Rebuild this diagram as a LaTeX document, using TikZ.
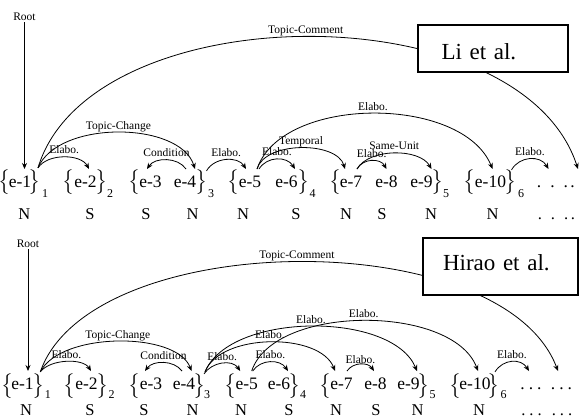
\documentclass[tikz,border=0pt]{standalone}
\usepackage{exscale}
\usepackage{fontspec}
\setmainfont{Liberation Serif}
\usetikzlibrary{arrows.meta}
\tikzset{
  eu/.style={font=\fontsize{17.5}{21}\selectfont, inner xsep=0pt, inner ysep=6pt, text height=11.8pt, text depth=0pt, anchor=base},
  brc/.style={font=\fontsize{20.8}{25}\selectfont, inner sep=0pt},
  subn/.style={font=\fontsize{12}{14}\selectfont, inner sep=0pt, anchor=base},
  nuc/.style={font=\fontsize{16.5}{20}\selectfont, inner sep=0pt, anchor=base},
  lbl/.style={font=\fontsize{11.5}{13}\selectfont, inner sep=0.5pt, text height=8pt, text depth=2.5pt},
  conn/.style={line width=0.8pt, -{Stealth[length=6pt,width=5pt]}},
  refbox/.style={draw, line width=1.8pt, fill=white, font=\fontsize{23}{28}\selectfont, align=left, inner ysep=0pt}
}
\newcommand{\lbr}{$\mathchar"4308$}
\newcommand{\rbr}{$\mathchar"5309$}
\newcommand{\wdots}{.\hspace{9pt}.\hspace{9pt}.}
\newcommand{\ndots}{.\hspace{4pt}.\hspace{4pt}.}
\begin{document}
\begin{tikzpicture}[x=1pt,y=-1pt]
\fill[white] (0,0) rectangle (584,416);
\useasboundingbox (0,0) rectangle (584,416);

% ================= TOP (Li et al.) =================
\node[font=\fontsize{11.5}{13}\selectfont, inner sep=1pt] (troot) at (24.5,17) {Root};
\node[brc] (tob1) at (5,182.5) {\lbr};
\node[eu] (te1) at (20,187) {e-1};
\node[brc] (tcb1) at (35,182.5) {\rbr};
\node[subn] (ts1) at (45,197) {1};
\node[brc] (tob2) at (69,182.5) {\lbr};
\node[eu] (te2) at (85.5,187) {e-2};
\node[brc] (tcb2) at (101.5,182.5) {\rbr};
\node[subn] (ts2) at (110,197) {2};
\node[brc] (tob3) at (134.5,182.5) {\lbr};
\node[eu] (te3) at (150.5,187) {e-3};
\node[eu] (te4) at (185,187) {e-4};
\node[brc] (tcb3) at (201.5,182.5) {\rbr};
\node[subn] (ts3) at (211,197) {3};
\node[brc] (tob4) at (234,182.5) {\lbr};
\node[eu] (te5) at (250,187) {e-5};
\node[eu] (te6) at (286.5,187) {e-6};
\node[brc] (tcb4) at (303.5,182.5) {\rbr};
\node[subn] (ts4) at (312.5,197) {4};
\node[brc] (tob5) at (336,182.5) {\lbr};
\node[eu] (te7) at (351,187) {e-7};
\node[eu] (te8) at (386.5,187) {e-8};
\node[eu] (te9) at (421.5,187) {e-9};
\node[brc] (tcb5) at (437.5,182.5) {\rbr};
\node[subn] (ts5) at (446,197) {5};
\node[brc] (tob6) at (469.5,182.5) {\lbr};
\node[eu] (te10) at (490.5,187) {e-10};
\node[brc] (tcb6) at (510.5,182.5) {\rbr};
\node[subn] (ts6) at (521,197) {6};
\node[eu] (td1) at (552.5,187) {\wdots};
\node[eu] (td2) at (586,187) {\wdots};

\node[nuc] (tn1) at (24.3,219.6) {N};
\node[nuc] (tn2) at (90,219.6) {S};
\node[nuc] (tn3) at (146,219.6) {S};
\node[nuc] (tn4) at (192.5,219.6) {N};
\node[nuc] (tn5) at (243,219.6) {N};
\node[nuc] (tn6) at (296,219.6) {S};
\node[nuc] (tn7) at (346,219.6) {N};
\node[nuc] (tn8) at (382,219.6) {S};
\node[nuc] (tn9) at (431,219.6) {N};
\node[nuc] (tn10) at (492.5,219.6) {N};
\node[nuc] (tn11) at (553,219.6) {\wdots};
\node[nuc] (tn12) at (586,219.6) {\wdots};

\draw[conn] (troot.south) -- (troot.south |- te1.north);
\draw[conn] ([xshift=3pt,yshift=2pt]tcb1.north) .. controls +(52,-173) and +(-58,-178) .. ([xshift=-8pt]td2.north)
  node[lbl,pos=.5,above] {Topic-Comment};
\draw[conn] ([xshift=3pt,yshift=2pt]tcb1.north) .. controls +(20,-48) and +(-15,-48) .. ([xshift=10pt]te4.north)
  node[lbl,pos=.5,above] {Topic-Change};
\draw[conn] ([xshift=3pt,yshift=2pt]tcb1.north) .. controls +(10,-15) and +(-8,-15) .. ([xshift=3.5pt]te2.north)
  node[lbl,pos=.5,above] {Elabo.};
\draw[conn] ([xshift=1pt]te4.north) .. controls +(-8,-12) and +(8,-12) .. ([xshift=-3.5pt]te3.north)
  node[lbl,pos=.5,above] {Condition};
\draw[conn] ([xshift=5pt,yshift=-1pt]tcb3.north) .. controls +(8,-14) and +(-8,-13) .. ([xshift=-4pt]te5.north)
  node[lbl,pos=.5,above] {Elabo.};
\draw[conn] ([xshift=9pt]te5.north) .. controls +(8,-13) and +(-8,-13) .. ([xshift=8.5pt]te6.north)
  node[lbl,pos=.5,above] {Elabo.};
\draw[conn] ([xshift=7pt]te5.north) .. controls +(8,-28) and +(-8,-28) .. ([xshift=-6pt]te7.north)
  node[lbl,pos=.5,above] {Temporal};
\draw[conn] ([xshift=7pt]te5.north) .. controls +(25,-74) and +(-30,-74) .. ([xshift=2pt]te10.north)
  node[lbl,pos=.5,above] {Elabo.};
\draw[conn] ([xshift=6pt]te7.north) .. controls +(12,-21) and +(-12,-21) .. ([xshift=10pt]te9.north)
  node[lbl,pos=.5,above] {Same-Unit};
\draw[conn] ([xshift=6pt]te7.north) .. controls +(6,-11) and +(-6,-11) .. (te8.north)
  node[lbl,pos=.5,above] {Elabo.};
\draw[conn] ([xshift=1pt]tcb6.north) .. controls +(8,-14) and +(-8,-14) .. ([xshift=-4pt]td1.north)
  node[lbl,pos=.5,above] {Elabo.};

\node[refbox, minimum width=150pt, minimum height=47pt, text width=103pt, inner xsep=23.5pt, text height=23.4pt, text depth=1.8pt] (li) at (493,48.5) {Li et al.};

% ================= BOTTOM (Hirao et al.) =================
\node[font=\fontsize{11.5}{13}\selectfont, inner sep=1pt] (broot) at (28,244) {Root};
\node[brc] (bob1) at (8,386.5) {\lbr};
\node[eu] (be1) at (22.5,389) {e-1};
\node[brc] (bcb1) at (38.3,386.5) {\rbr};
\node[subn] (bs1) at (48,398) {1};
\node[brc] (bob2) at (70,386.5) {\lbr};
\node[eu] (be2) at (86.5,389) {e-2};
\node[brc] (bcb2) at (102.7,386.5) {\rbr};
\node[subn] (bs2) at (111.5,398) {2};
\node[brc] (bob3) at (134.5,386.5) {\lbr};
\node[eu] (be3) at (151,389) {e-3};
\node[eu] (be4) at (184,389) {e-4};
\node[brc] (bcb3) at (200,386.5) {\rbr};
\node[subn] (bs3) at (207,398) {3};
\node[brc] (bob4) at (231,386.5) {\lbr};
\node[eu] (be5) at (246.7,389) {e-5};
\node[eu] (be6) at (279,389) {e-6};
\node[brc] (bcb4) at (295,386.5) {\rbr};
\node[subn] (bs4) at (303,398) {4};
\node[brc] (bob5) at (326,386.5) {\lbr};
\node[eu] (be7) at (341.5,389) {e-7};
\node[eu] (be8) at (375.5,389) {e-8};
\node[eu] (be9) at (408.5,389) {e-9};
\node[brc] (bcb5) at (424,386.5) {\rbr};
\node[subn] (bs5) at (432.5,398) {5};
\node[brc] (bob6) at (455.5,386.5) {\lbr};
\node[eu] (be10) at (475,389) {e-10};
\node[brc] (bcb6) at (494,386.5) {\rbr};
\node[subn] (bs6) at (503.5,398) {6};
\node[eu] (bd1) at (531,389) {\ndots};
\node[eu] (bd2) at (561.5,389) {\ndots};

\node[nuc] (bn1) at (26,415.5) {N};
\node[nuc] (bn2) at (90,415.5) {S};
\node[nuc] (bn3) at (144,415.5) {S};
\node[nuc] (bn4) at (192.5,415.5) {N};
\node[nuc] (bn5) at (241,415.5) {N};
\node[nuc] (bn6) at (289,415.5) {S};
\node[nuc] (bn7) at (336,415.5) {N};
\node[nuc] (bn8) at (376,415.5) {S};
\node[nuc] (bn9) at (417.5,415.5) {N};
\node[nuc] (bn10) at (479,415.5) {N};
\node[nuc] (bn11) at (531.5,415.5) {\ndots};
\node[nuc] (bn12) at (562,415.5) {\ndots};

\draw[conn] (broot.south) -- (broot.south |- be1.north);
\draw[conn] ([xshift=2pt,yshift=2pt]bcb1.north) .. controls +(50,-144) and +(-56,-148) .. ([xshift=-3.5pt]bd2.north)
  node[lbl,pos=.5,above] {Topic-Comment};
\draw[conn] ([xshift=2pt,yshift=2pt]bcb1.north) .. controls +(20,-40) and +(-15,-40) .. ([xshift=7.5pt]be4.north)
  node[lbl,pos=.5,above] {Topic-Change};
\draw[conn] ([xshift=2pt,yshift=2pt]bcb1.north) .. controls +(10,-13) and +(-8,-13) .. ([xshift=4.5pt]be2.north)
  node[lbl,pos=.5,above] {Elabo.};
\draw[conn] ([xshift=-2pt]be4.north) .. controls +(-8,-11) and +(8,-11) .. ([xshift=-6pt]be3.north)
  node[lbl,pos=.5,above] {Condition};
\draw[conn] ([xshift=4pt]bcb3.north) .. controls +(8,-12) and +(-8,-12) .. ([xshift=-6.5pt]be5.north)
  node[lbl,pos=.5,above] {Elabo.};
\draw[conn] ([xshift=6pt]be5.north) .. controls +(8,-12) and +(-8,-12) .. ([xshift=9pt]be6.north)
  node[lbl,pos=.5,above] {Elabo.};
\draw[conn] ([xshift=5pt,yshift=2pt]bcb3.north) .. controls +(15,-39) and +(-15,-39) .. ([xshift=-6.5pt]be7.north)
  node[lbl,pos=.5,above] {Elabo.};
\draw[conn] ([xshift=5pt,yshift=2pt]bcb3.north) .. controls +(25,-60) and +(-25,-60) .. ([xshift=8.5pt]be9.north)
  node[lbl,pos=.5,above] {Elabo.};
\draw[conn] ([xshift=5pt]be5.north) .. controls +(22,-67) and +(-25,-67) .. ([xshift=3pt]be10.north)
  node[lbl,pos=.5,above] {Elabo.};
\draw[conn] ([xshift=5.5pt]be7.north) .. controls +(6,-9) and +(-6,-9) .. ([xshift=-1.5pt]be8.north)
  node[lbl,pos=.5,above,yshift=-3pt] {Elabo.};
\draw[conn] ([xshift=1pt,yshift=2pt]bcb6.north) .. controls +(8,-13) and +(-8,-13) .. ([xshift=-2pt]bd1.north)
  node[lbl,pos=.5,above] {Elabo.};

\node[refbox, minimum width=155pt, minimum height=57pt, text width=115pt, inner xsep=20pt, text height=16pt, text depth=8.4pt] (hirao) at (500.5,266.5) {Hirao et al.};
\end{tikzpicture}
\end{document}
